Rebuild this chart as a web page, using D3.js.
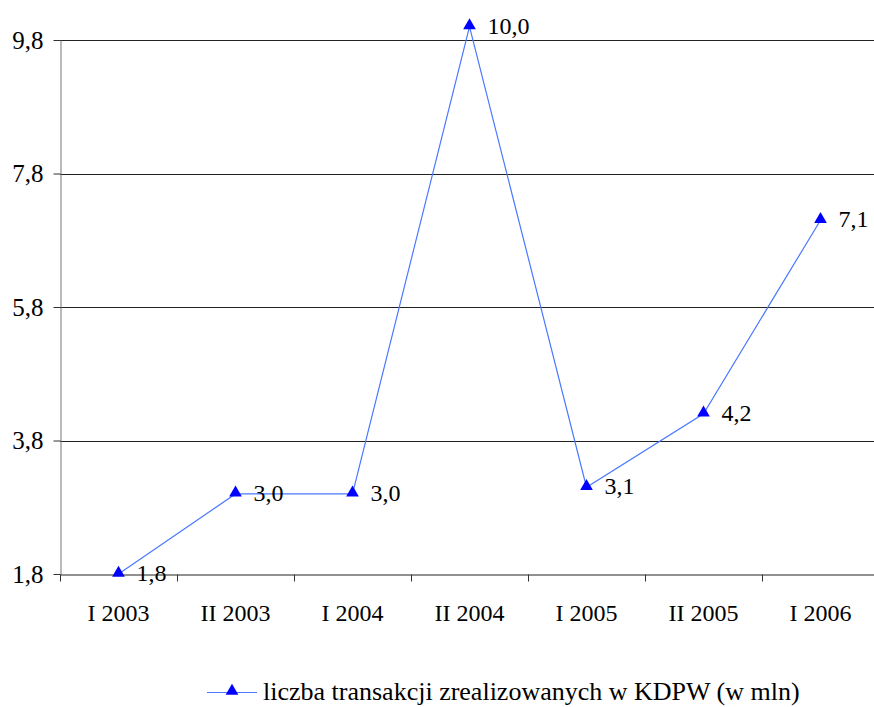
<!DOCTYPE html>
<html><head><meta charset="utf-8">
<script src="https://cdn.jsdelivr.net/npm/d3@7"></script>
<style>body{margin:0;background:#fff}svg{display:block}</style>
</head><body>
<script>
const categories = ["I 2003","II 2003","I 2004","II 2004","I 2005","II 2005","I 2006"];
const values = [1.8, 3.0, 3.0, 10.0, 3.1, 4.2, 7.1];
const labels = ["1,8","3,0","3,0","10,0","3,1","4,2","7,1"];
const yTicks = [1.8, 3.8, 5.8, 7.8, 9.8];
const seriesName = "liczba transakcji zrealizowanych w KDPW (w mln)";

const W = 874, H = 707;
const font = "'Liberation Serif','Times New Roman',serif";

const svg = d3.select("body").append("svg").attr("width", W).attr("height", H);

const x = d3.scaleBand().domain(categories).range([60, 879]).padding(0);
const y = d3.scaleLinear().domain([1.8, 9.8]).range([574, 40]);

// gridlines
svg.append("g").selectAll("line").data(yTicks.slice(1)).join("line")
  .attr("x1", 60).attr("x2", 879)
  .attr("y1", d => Math.round(y(d)) + 0.5).attr("y2", d => Math.round(y(d)) + 0.5)
  .attr("stroke", "#222").attr("stroke-width", 1);

// y axis
const yAxis = svg.append("g").attr("transform", "translate(60.5,0)")
  .call(d3.axisLeft(y).tickValues(yTicks).tickSize(7).tickSizeOuter(0)
    .tickFormat(d => d3.format(".1f")(d).replace(".", ",")));
yAxis.select(".domain").attr("stroke", "#777");
yAxis.selectAll(".tick line").attr("stroke", "#333");
yAxis.selectAll(".tick text").attr("font-family", font).attr("font-size", 25)
  .attr("fill", "#000").attr("x", -17);

// x axis
const xAxis = svg.append("g").attr("transform", "translate(0," + (Math.round(y(1.8)) + 0.5) + ")")
  .call(d3.axisBottom(x).tickSize(0).tickSizeOuter(0));
xAxis.select(".domain").attr("stroke", "#222");
xAxis.selectAll(".tick text").attr("font-family", font).attr("font-size", 24)
  .attr("fill", "#000").attr("dy", "0").attr("y", 46);
// category separators
xAxis.append("g").selectAll("line").data(categories.concat(["__end"])).join("line")
  .attr("x1", (d, i) => Math.round(60 + i * x.bandwidth()) + 0.5)
  .attr("x2", (d, i) => Math.round(60 + i * x.bandwidth()) + 0.5)
  .attr("y1", 0).attr("y2", 7).attr("stroke", "#333");

const cx = d => x(d) + x.bandwidth() / 2;
const data = categories.map((c, i) => ({c, v: values[i], l: labels[i]}));

svg.append("path").datum(data)
  .attr("fill", "none").attr("stroke", "#4a78ff").attr("stroke-width", 1.2)
  .attr("d", d3.line().x(d => cx(d.c)).y(d => y(d.v)));

const tri = d3.symbol().type(d3.symbolTriangle).size(70);
svg.append("g").selectAll("path").data(data).join("path")
  .attr("d", tri).attr("fill", "#0000ff")
  .attr("transform", d => `translate(${cx(d.c)},${y(d.v) - 1})`);

svg.append("g").selectAll("text").data(data).join("text")
  .attr("x", d => cx(d.c) + 18).attr("y", d => y(d.v))
  .attr("dy", "0.3em")
  .attr("font-family", font).attr("font-size", 24).attr("fill", "#000")
  .text(d => d.l);

// legend
const lg = svg.append("g");
lg.append("line").attr("x1", 207).attr("x2", 257).attr("y1", 692.5).attr("y2", 692.5)
  .attr("stroke", "#4a78ff").attr("stroke-width", 1.2);
lg.append("path").attr("d", tri).attr("fill", "#0000ff").attr("transform", "translate(232,691)");
lg.append("text").attr("x", 263).attr("y", 700)
  .attr("font-family", font).attr("font-size", 26).attr("fill", "#000").text(seriesName);
</script>
</body></html>
